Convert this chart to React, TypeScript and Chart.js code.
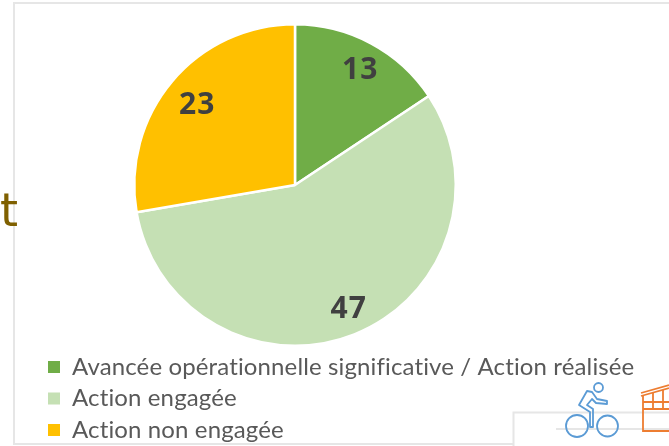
import React, { useEffect, useRef } from "react";
import { Chart, registerables } from "chart.js";

Chart.register(...registerables);

const categories = [
  "Avancée opérationnelle significative / Action réalisée",
  "Action engagée",
  "Action non engagée",
];
const values = [13, 47, 23];
const colors = ["#70ad47", "#c5e0b4", "#ffc000"];
const stray = "t";

const pieLabels = {
  id: "pieLabels",
  afterDatasetsDraw(chart: any) {
    const { ctx } = chart;
    const arcs = chart.getDatasetMeta(0).data;
    const nudge = [[3, 2], [5, 2], [3, 5]];
    ctx.save();
    ctx.font = "bold 30px 'Open Sans', sans-serif";
    ctx.letterSpacing = "1px";
    ctx.fillStyle = "#404040";
    ctx.textAlign = "center";
    ctx.textBaseline = "middle";
    arcs.forEach((arc: any, i: number) => {
      const mid = (arc.startAngle + arc.endAngle) / 2;
      const r = arc.outerRadius * 0.82;
      ctx.fillText(String(values[i]), arc.x + Math.cos(mid) * r + nudge[i][0], arc.y + Math.sin(mid) * r + nudge[i][1]);
    });
    ctx.restore();
  },
};

const sideLegend = {
  id: "sideLegend",
  afterDraw(chart: any) {
    const { ctx } = chart;
    ctx.save();
    ctx.textBaseline = "middle";
    ctx.textAlign = "left";
    categories.forEach((name, i) => {
      const y = 367 + i * 31.5;
      ctx.fillStyle = colors[i];
      ctx.fillRect(48, y - 6, 12, 12);
      ctx.fillStyle = "#595959";
      ctx.font = "24px Lato, sans-serif";
      ctx.letterSpacing = "0.13px";
      ctx.fillText(name, 72, y);
    });
    ctx.letterSpacing = "0px";
    ctx.fillStyle = "#7f6000";
    ctx.font = "46px 'DejaVu Sans', sans-serif";
    ctx.fillText(stray, 0, 214);
    ctx.restore();
  },
};

export default function App() {
  const ref = useRef<HTMLCanvasElement>(null);
  useEffect(() => {
    const chart = new Chart(ref.current!, {
      type: "pie",
      data: {
        labels: categories,
        datasets: [{ data: values, backgroundColor: colors, borderColor: "#ffffff", borderWidth: 2.5 }],
      },
      options: {
        responsive: false,
        animation: false,
        layout: { padding: { left: 133, right: 212, top: 23, bottom: 99 } },
        plugins: { legend: { display: false }, tooltip: { enabled: false } },
      },
      plugins: [pieLabels, sideLegend],
    });
    return () => chart.destroy();
  }, []);

  return (
    <div style={{ position: "fixed", inset: 0, width: 669, height: 446, background: "#fff", overflow: "hidden" }}>
      <svg width={669} height={446} style={{ position: "absolute", left: 0, top: 0 }} fill="none">
        <g stroke="#e6e6e6" strokeWidth={2}>
          <path d="M669 3H14V444H513" />
          <path d="M669 412.5H513.5V446" />
          <path d="M556 429H669" />
        </g>
      </svg>
      <canvas ref={ref} width={669} height={446} style={{ position: "absolute", left: 0, top: 0 }} />
      <svg width={669} height={446} style={{ position: "absolute", left: 0, top: 0 }} fill="none">
        <g stroke="#5b9bd5" strokeWidth={1.8} strokeLinejoin="round">
          <circle cx={598.5} cy={387.5} r={4.5} />
          <circle cx={577} cy={426} r={11} />
          <circle cx={607.5} cy={426} r={10.5} />
          <path d="M587 391L592 392L597 399L607 401V404L596 403L592 399L587 405L593 409V427H590V412L579 405Z" />
        </g>
        <g stroke="#ed7d31" strokeWidth={1.8}>
          <path d="M641 393L669 385M641 396L669 388" />
          <path d="M643 395V431H669M653 392V409M663 390V409M643 402H669M643 409H669" />
        </g>
      </svg>
    </div>
  );
}
